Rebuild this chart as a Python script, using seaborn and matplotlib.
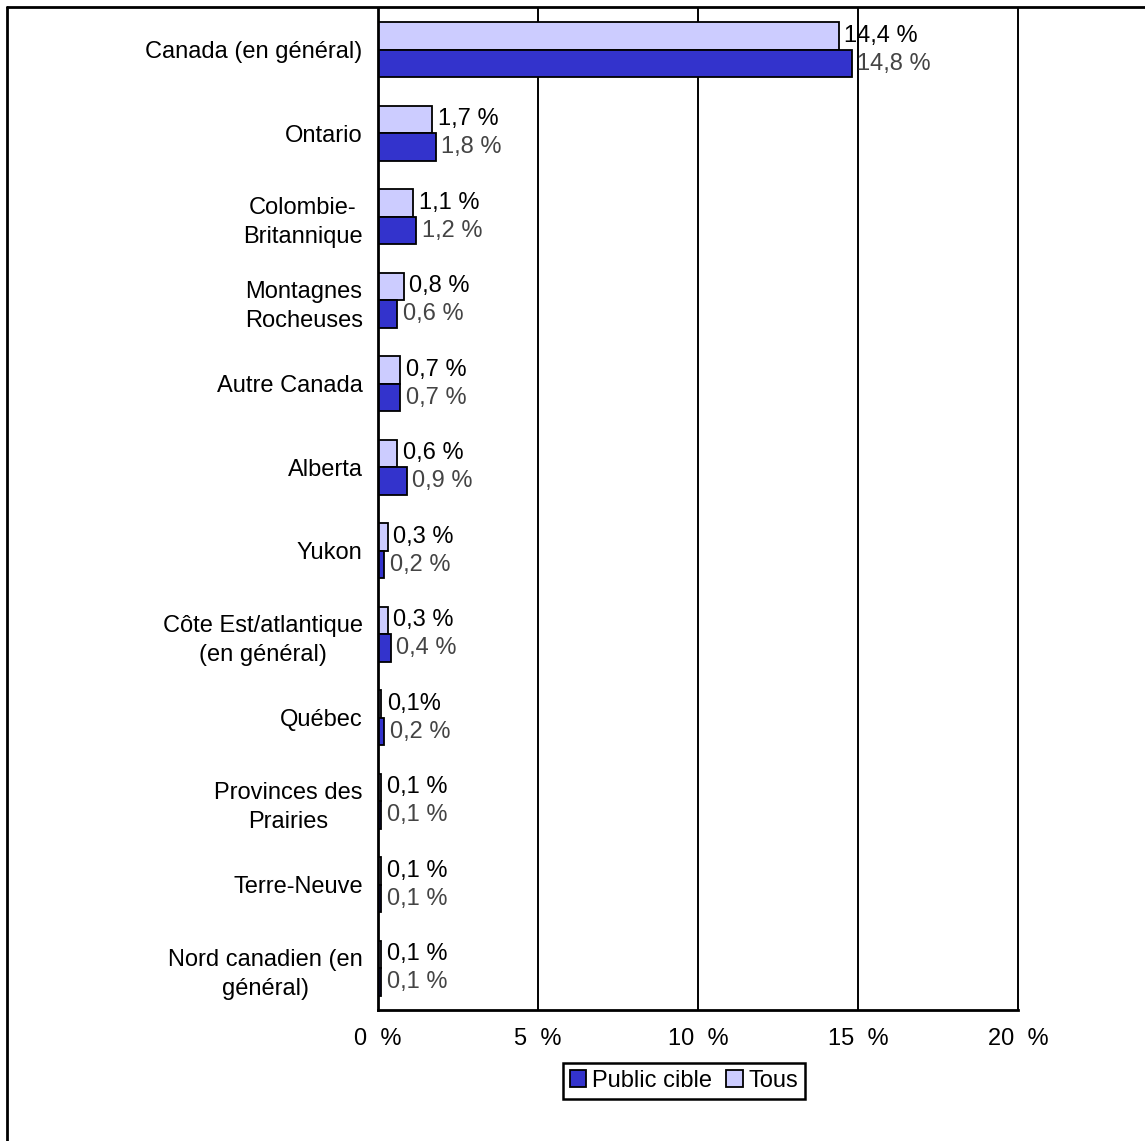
import pandas as pd
import numpy as np
import seaborn as sns
import matplotlib.pyplot as plt
from matplotlib.lines import Line2D

# data
regions = ["Canada (en général)", "Ontario", "Colombie-\nBritannique", "Montagnes\nRocheuses",
           "Autre Canada", "Alberta", "Yukon", "Côte Est/atlantique\n(en général)", "Québec",
           "Provinces des\nPrairies", "Terre-Neuve", "Nord canadien (en\ngénéral)"]
tous = [14.4, 1.7, 1.1, 0.8, 0.7, 0.6, 0.3, 0.3, 0.1, 0.1, 0.1, 0.1]
public_cible = [14.8, 1.8, 1.2, 0.6, 0.7, 0.9, 0.2, 0.4, 0.2, 0.1, 0.1, 0.1]
tous_labels = ["14,4 %", "1,7 %", "1,1 %", "0,8 %", "0,7 %", "0,6 %", "0,3 %", "0,3 %",
               "0,1%", "0,1 %", "0,1 %", "0,1 %"]
public_labels = ["14,8 %", "1,8 %", "1,2 %", "0,6 %", "0,7 %", "0,9 %", "0,2 %", "0,4 %",
                 "0,2 %", "0,1 %", "0,1 %", "0,1 %"]
x_ticks = [0, 5, 10, 15, 20]
x_tick_labels = ["0  %", "5  %", "10  %", "15  %", "20  %"]

df = pd.DataFrame({
    "region": regions * 2,
    "valeur": tous + public_cible,
    "groupe": ["Tous"] * len(regions) + ["Public cible"] * len(regions),
})

sns.set_style("white")
plt.rcParams['font.family'] = ['Liberation Sans', 'DejaVu Sans']
plt.rcParams['text.color'] = 'black'
plt.rcParams['xtick.color'] = 'black'
plt.rcParams['ytick.color'] = 'black'

fig = plt.figure(figsize=(11.45, 11.41), dpi=100)
ax = fig.add_axes([378 / 1145, 1 - 1010 / 1141, 640 / 1145, 1002 / 1141])

sns.barplot(data=df, y="region", x="valeur", hue="groupe", hue_order=["Tous", "Public cible"],
            palette={"Tous": "#CCCCFF", "Public cible": "#3333CC"}, orient="h",
            width=0.66, edgecolor="black", linewidth=1.3, saturation=1, ax=ax)

ax.bar_label(ax.containers[0], labels=tous_labels, padding=4, fontsize=17, color="black")
ax.bar_label(ax.containers[1], labels=public_labels, padding=4, fontsize=17, color="#444444")

ax.set_xlim(0, 20)
ax.set_ylim(len(regions) - 0.5, -0.5)
ax.set_xticks(x_ticks)
ax.set_xticklabels(x_tick_labels, fontsize=17, color="black")
ax.set_yticks(range(len(regions)))
ax.set_yticklabels(regions, fontsize=17, multialignment="center", color="black")
for t in ax.get_yticklabels():
    t.set_linespacing(1.4)
ax.set_yticks(np.arange(-0.5, len(regions)), minor=True)
ax.tick_params(axis="y", which="major", length=0, pad=11)
ax.tick_params(axis="y", which="minor", length=5, width=1.5, color="black", direction="out")
ax.tick_params(axis="x", which="major", length=5, width=1.4, color="black", direction="out", pad=8)
ax.set_xlabel("")
ax.set_ylabel("")

for xv in x_ticks[1:-1]:
    ax.axvline(xv, color="black", linewidth=1.4, zorder=0)

for s in ["left", "bottom"]:
    ax.spines[s].set_color("black")
    ax.spines[s].set_linewidth(2)
ax.spines["right"].set_color("black")
ax.spines["right"].set_linewidth(1.4)
ax.spines["top"].set_visible(False)

handles, labels = ax.get_legend_handles_labels()
ax.legend_.remove()
leg = fig.legend([handles[1], handles[0]], [labels[1], labels[0]], loc="center",
                 bbox_to_anchor=(684 / 1145, 1 - 1081 / 1141), ncol=2, fontsize=17,
                 frameon=True, fancybox=False, edgecolor="black", framealpha=1,
                 handlelength=0.7, handleheight=0.7, handletextpad=0.25,
                 columnspacing=0.6, borderpad=0.3, borderaxespad=0)
leg.get_frame().set_linewidth(1.8)
for t in leg.get_texts():
    t.set_color("black")

# outer border (top and left)
fig.add_artist(Line2D([7 / 1145, 1], [1 - 7 / 1141, 1 - 7 / 1141], color="black", linewidth=2,
                      transform=fig.transFigure))
fig.add_artist(Line2D([7 / 1145, 7 / 1145], [0, 1 - 7 / 1141], color="black", linewidth=2,
                      transform=fig.transFigure))

fig.savefig("out.png", dpi=100, facecolor="white")
